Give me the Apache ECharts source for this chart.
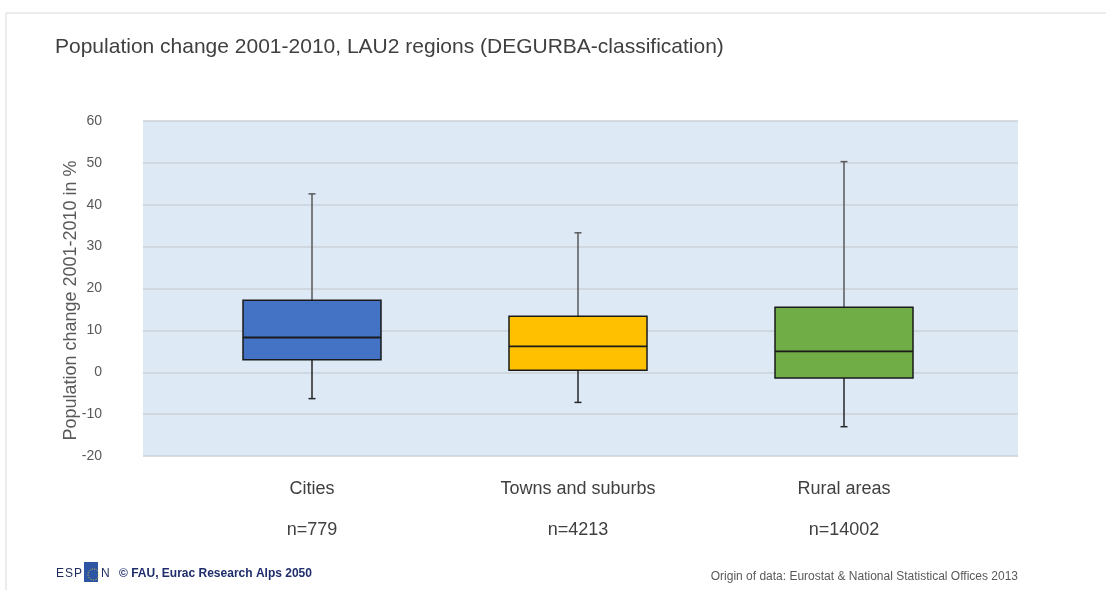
<!DOCTYPE html>
<html>
<head>
<meta charset="utf-8">
<script src="https://cdn.jsdelivr.net/npm/echarts@6/dist/echarts.min.js"></script>
<style>
  html, body { margin: 0; padding: 0; background: #fff; }
  #chart { width: 1106px; height: 590px; }
</style>
</head>
<body>
<div id="chart"></div>
<script>
// data
const categories = ['Cities', 'Towns and suburbs', 'Rural areas']
const counts = ['n=779', 'n=4213', 'n=14002']
const lowWhisker = [-6.3, -7.2, -13.0]
const q1 = [3.0, 0.5, -1.4]
const median = [8.3, 6.2, 5.0]
const q3 = [17.2, 13.4, 15.5]
const highWhisker = [42.6, 33.3, 50.3]
const boxColors = ['#4472C4', '#FFC000', '#70AD47']

const boxData = categories.map((c, i) => [i, lowWhisker[i], q1[i], median[i], q3[i], highWhisker[i]])

function renderBox (params, api) {
  const i = api.value(0)
  const x = api.coord([i, 0])[0]
  const yLow = api.coord([i, api.value(1)])[1]
  const yQ1 = api.coord([i, api.value(2)])[1]
  const yMed = api.coord([i, api.value(3)])[1]
  const yQ3 = api.coord([i, api.value(4)])[1]
  const yHigh = api.coord([i, api.value(5)])[1]
  const half = 69
  const cap = 3.5
  const whisker = { stroke: '#595959', lineWidth: 1.5 }
  return {
    type: 'group',
    children: [
      { type: 'line', shape: { x1: x, y1: yHigh, x2: x, y2: yQ3 }, style: whisker },
      { type: 'line', shape: { x1: x - cap, y1: yHigh, x2: x + cap, y2: yHigh }, style: whisker },
      { type: 'line', shape: { x1: x, y1: yQ1, x2: x, y2: yLow }, style: { stroke: '#262626', lineWidth: 1.5 } },
      { type: 'line', shape: { x1: x - cap, y1: yLow, x2: x + cap, y2: yLow }, style: { stroke: '#262626', lineWidth: 1.5 } },
      { type: 'rect', shape: { x: x - half, y: yQ3, width: half * 2, height: yQ1 - yQ3 },
        style: { fill: boxColors[i], stroke: '#1a1a1a', lineWidth: 1.5 } },
      { type: 'line', shape: { x1: x - half, y1: yMed, x2: x + half, y2: yMed }, style: { stroke: '#1a1a1a', lineWidth: 1.8 } }
    ]
  }
}

const footerText = { fontFamily: 'Liberation Sans', fontSize: 12, fill: '#1F2A5C' }

const chart = echarts.init(document.getElementById('chart'))
chart.setOption({
  animation: false,
  title: {
    text: 'Population change 2001-2010, LAU2 regions (DEGURBA-classification)',
    left: 50,
    top: 32,
    textStyle: { fontFamily: 'Liberation Sans', fontSize: 21, fontWeight: 'normal', color: '#404040' }
  },
  grid: [
    { left: 143, right: 88, top: 121, bottom: 134, show: true, backgroundColor: '#DDEAF6', borderWidth: 0 },
    { left: 179, right: 129, top: 121, bottom: 134 }
  ],
  xAxis: [
    { type: 'value', gridIndex: 0, show: false, min: 0, max: 1 },
    {
      type: 'category', gridIndex: 1, data: categories,
      axisLine: { show: false }, axisTick: { show: false },
      axisLabel: {
        margin: 24,
        fontFamily: 'Liberation Sans', fontSize: 18, color: '#404040',
        formatter: (v, idx) => v + '\n{n|' + counts[idx] + '}',
        rich: { n: { fontFamily: 'Liberation Sans', fontSize: 18, color: '#404040', padding: [23, 0, 0, 0] } }
      }
    }
  ],
  yAxis: [
    {
      type: 'value', gridIndex: 0, min: -20, max: 60, interval: 10,
      name: 'Population change 2001-2010 in %',
      nameLocation: 'middle', nameGap: 63, nameMoveOverlap: false,
      nameTextStyle: { fontFamily: 'Liberation Sans', fontSize: 18, color: '#595959', padding: [0, 24, 0, 0] },
      axisLine: { show: false }, axisTick: { show: false },
      axisLabel: { margin: 41, fontFamily: 'Liberation Sans', fontSize: 14, color: '#595959' },
      splitLine: { lineStyle: { color: '#CBD0D6', width: 1.5 } }
    },
    { type: 'value', gridIndex: 1, min: -20, max: 60, show: false }
  ],
  series: [{
    type: 'custom',
    xAxisIndex: 1,
    yAxisIndex: 1,
    data: boxData,
    renderItem: renderBox
  }],
  graphic: [
    { type: 'line', shape: { x1: 6, y1: 13, x2: 1106, y2: 13 }, style: { stroke: '#D9D9D9', lineWidth: 1 } },
    { type: 'line', shape: { x1: 6, y1: 13, x2: 6, y2: 590 }, style: { stroke: '#D9D9D9', lineWidth: 1 } },
    { type: 'text', left: 56, top: 568, style: Object.assign({ text: 'E' }, footerText) },
    { type: 'text', left: 65, top: 568, style: Object.assign({ text: 'S' }, footerText) },
    { type: 'text', left: 74, top: 568, style: Object.assign({ text: 'P' }, footerText) },
    { type: 'rect', left: 84, top: 562, shape: { width: 14, height: 20 }, style: { fill: '#2E55A4' } },
    { type: 'circle', left: 85.5, top: 566.5, shape: { r: 5.5 }, style: { fill: 'none', stroke: '#F2D21B', lineWidth: 1, lineDash: [1, 1.6] } },
    { type: 'text', left: 101, top: 568, style: Object.assign({ text: 'N' }, footerText) },
    { type: 'text', left: 119, top: 568, style: { text: '© FAU, Eurac Research Alps 2050', fontFamily: 'Liberation Sans', fontSize: 12, fontWeight: 'bold', fill: '#1F2D6B' } },
    { type: 'text', right: 88, top: 571, style: { text: 'Origin of data: Eurostat & National Statistical Offices 2013', fontFamily: 'Liberation Sans', fontSize: 12, fill: '#595959' } }
  ]
})
</script>
</body>
</html>
